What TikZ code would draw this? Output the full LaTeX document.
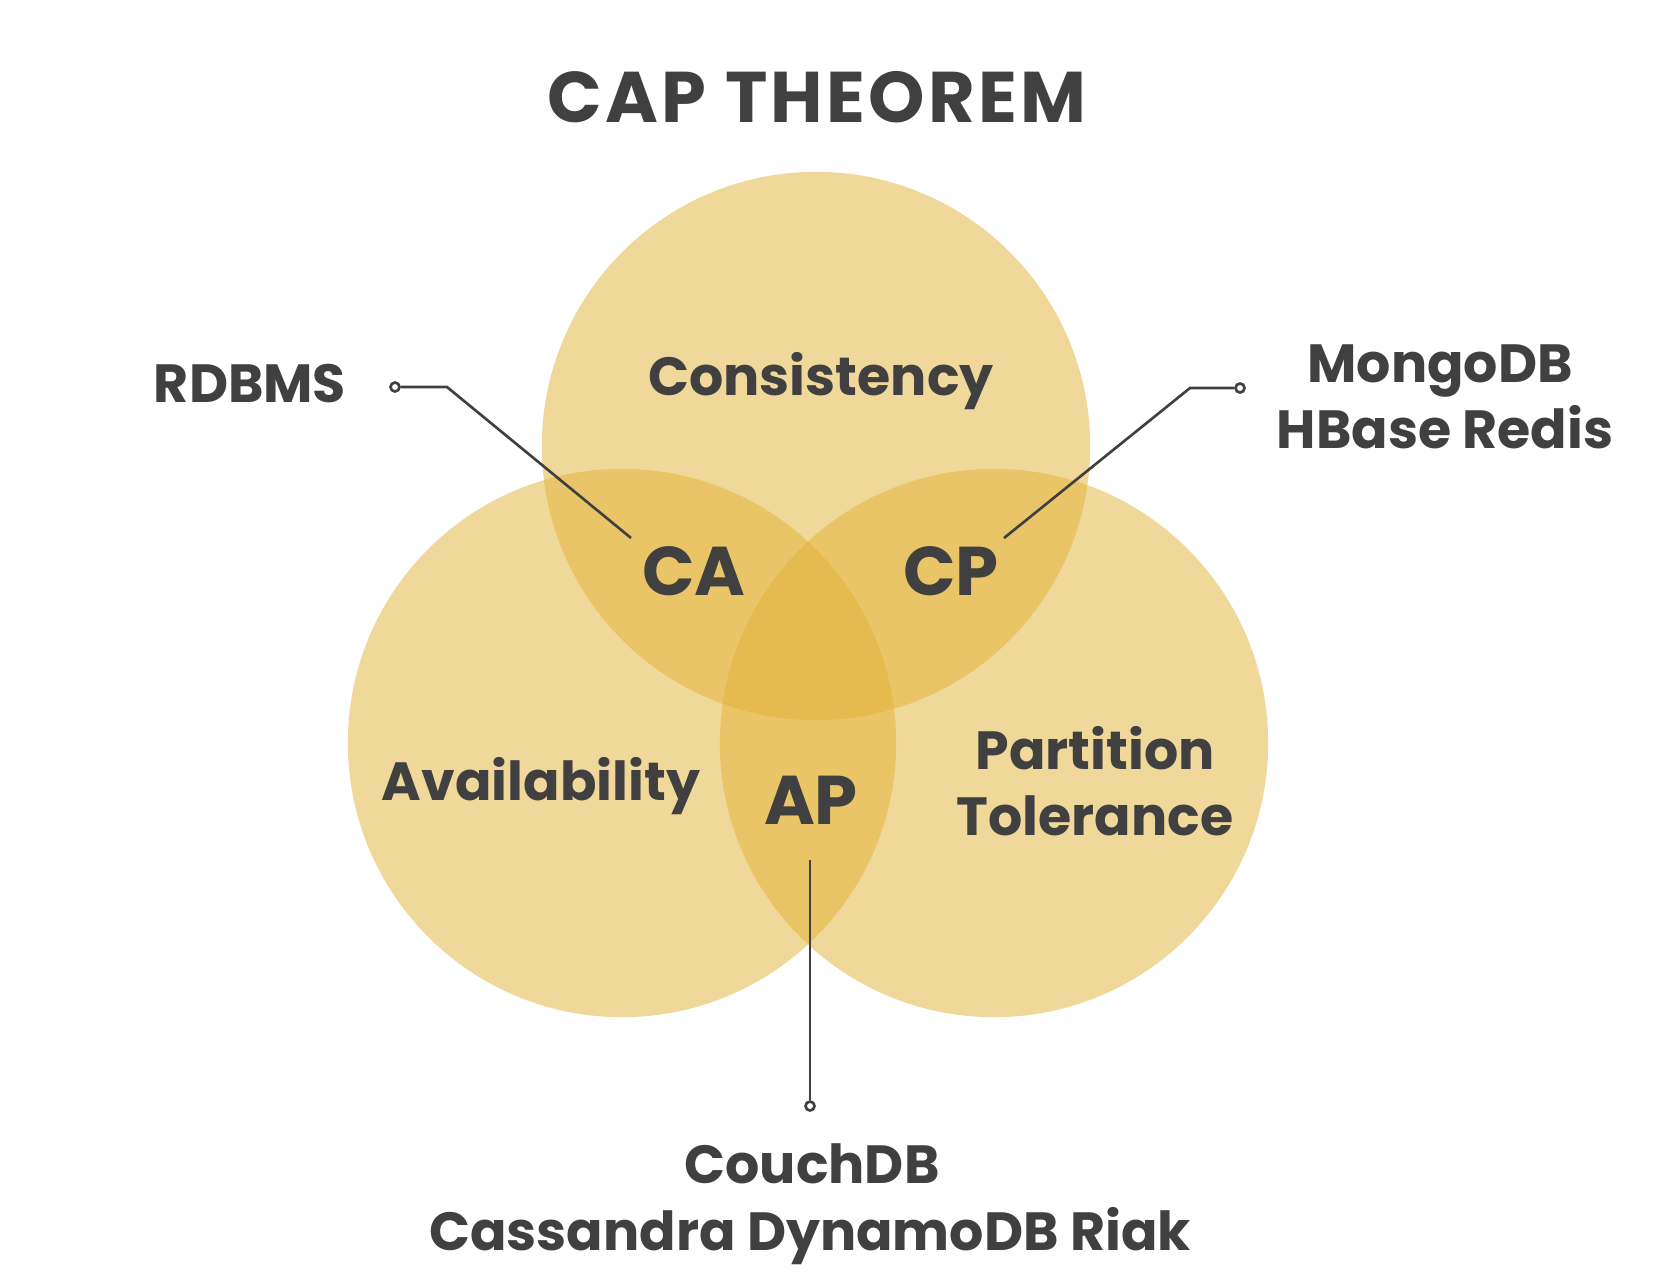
\documentclass[tikz,border=0pt]{standalone}
\usepackage{fontspec}
\setmainfont{Poppins}
\usepackage{xcolor}
\usepackage{tikz}
\usetikzlibrary{positioning}

\definecolor{capyellow}{RGB}{227,179,55}
\definecolor{capgray}{RGB}{64,64,64}

\tikzset{
  setcircle/.style={circle, fill=capyellow, fill opacity=0.5, minimum size=5.48cm, inner sep=0pt},
  setname/.style={anchor=base, inner sep=0pt, text=capgray, font=\fontsize{15.3}{18}\selectfont\bfseries},
  pairname/.style={anchor=base, inner sep=0pt, text=capgray, font=\fontsize{19.6}{22}\selectfont\bfseries},
  pinend/.style={circle, draw=capgray, fill=white, line width=0.75pt, minimum size=0.09cm, inner sep=0pt},
  leader/.style={draw=capgray, line width=0.75pt},
}

\begin{document}
\begin{tikzpicture}[x=0.01cm, y=-0.01cm]
\fill[white] (0,0) rectangle (1680,1275);
\useasboundingbox (0,0) rectangle (1680,1275);

% the three sets
\node[setcircle] (set_c) at (816,446) {};
\node[setcircle] (set_a) at (622,743) {};
\node[setcircle] (set_p) at (994,743) {};

\node[anchor=base, inner sep=0pt, text=capgray, font=\fontsize{20.4}{24}\selectfont\bfseries\addfontfeature{LetterSpace=4.5}] (title) at (817,122) {CAP THEOREM};

\node[setname] (consistency) at (821,395) {Consistency};
\node[setname] (availability) at (541,800) {Availability};
\node[setname] (partition) at (1095,769) {Partition};
\node[setname] (tolerance) at (1095,835) {Tolerance};

\node[pairname] (ca) at (694,595) {CA};
\node[pairname] (cp) at (951,595) {CP};
\node[pairname] (ap) at (811,824) {AP};

% example systems
\node[setname] (rdbms) at (250,402) {RDBMS};
\node[setname] (mongodb) at (1440,382) {MongoDB};
\node[setname] (hbase) at (1445,448) {HBase Redis};
\node[setname] (couchdb) at (812,1183) {CouchDB};
\node[setname] (cassandra) at (810,1250) {Cassandra DynamoDB Riak};

% leaders
\node[pinend] (pin_rdbms) at (395,387) {};
\coordinate (bend_rdbms) at (447,387);
\coordinate (tip_ca) at (631,538);
\draw[leader] (pin_rdbms) -- (bend_rdbms) -- (tip_ca);

\node[pinend] (pin_cp) at (1240,388) {};
\coordinate (bend_cp) at (1190,388);
\coordinate (tip_cp) at (1004,538);
\draw[leader] (pin_cp) -- (bend_cp) -- (tip_cp);

\node[pinend] (pin_ap) at (810,1106) {};
\coordinate (tip_ap) at (810,860);
\draw[leader] (tip_ap) -- (pin_ap);

\end{tikzpicture}
\end{document}
